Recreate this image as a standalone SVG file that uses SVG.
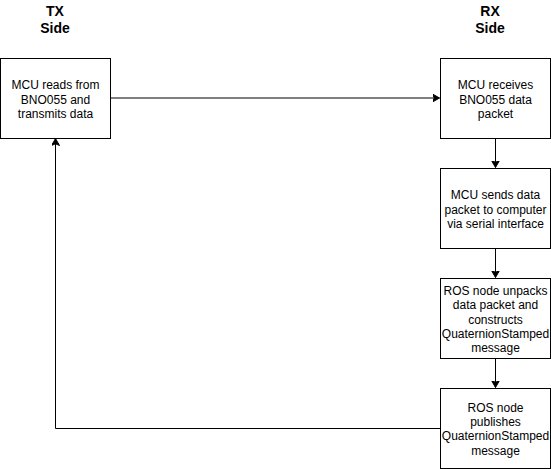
<svg xmlns="http://www.w3.org/2000/svg" width="551" height="469" viewBox="0 0 551 469">
<style>
.box{fill:#fff;stroke:#000;stroke-width:1}
.t{font-family:"Liberation Sans",Arial,sans-serif;font-size:12px;fill:#000;text-anchor:middle}
.h{font-family:"Liberation Sans",Arial,sans-serif;font-size:14px;font-weight:bold;fill:#000;text-anchor:middle}
.c{fill:none;stroke:#000;stroke-width:1}
</style>
<defs>
<marker id="arr" markerWidth="10" markerHeight="10" refX="7" refY="4" orient="auto" markerUnits="userSpaceOnUse">
<path d="M0,0 L7,4 L0,8 L1.75,4 Z" fill="#000" stroke="#000" stroke-width="1"/>
</marker>
</defs>
<rect width="551" height="469" fill="#fff"/>
<g id="labels">
<text class="h" x="55" y="15.5">TX</text>
<text class="h" x="55" y="32.5">Side</text>
<text class="h" x="490" y="15.5">RX</text>
<text class="h" x="490" y="32.5">Side</text>
</g>
<g id="connectors">
<path class="c" d="M110.5,98 L439.5,98" marker-end="url(#arr)"/>
<path class="c" d="M495.5,138.5 L495.5,167.5" marker-end="url(#arr)"/>
<path class="c" d="M495.5,248.5 L495.5,277.5" marker-end="url(#arr)"/>
<path class="c" d="M495.5,358.5 L495.5,387.5" marker-end="url(#arr)"/>
<path class="c" d="M440.5,428.5 L55.5,428.5 L55.5,138.5" marker-end="url(#arr)"/>
</g>
<g id="node1">
<rect class="box" x="0.5" y="58.5" width="110" height="80"/>
<text class="t" x="55.5" y="89.3">MCU reads from</text>
<text class="t" x="55.5" y="103.5">BNO055 and</text>
<text class="t" x="55.5" y="117.7">transmits data</text>
</g>
<g id="node2">
<rect class="box" x="440.5" y="58.5" width="110" height="80"/>
<text class="t" x="495.5" y="89.3">MCU receives</text>
<text class="t" x="495.5" y="103.5">BNO055 data</text>
<text class="t" x="495.5" y="117.7">packet</text>
</g>
<g id="node3">
<rect class="box" x="440.5" y="168.5" width="110" height="80"/>
<text class="t" x="495.5" y="199.3">MCU sends data</text>
<text class="t" x="495.5" y="213.5">packet to computer</text>
<text class="t" x="495.5" y="227.7">via serial interface</text>
</g>
<g id="node4">
<rect class="box" x="440.5" y="278.5" width="110" height="80"/>
<text class="t" x="495.5" y="295">ROS node unpacks</text>
<text class="t" x="495.5" y="309.3">data packet and</text>
<text class="t" x="495.5" y="323.6">constructs</text>
<text class="t" x="495.5" y="337.9">QuaternionStamped</text>
<text class="t" x="495.5" y="352.2">message</text>
</g>
<g id="node5">
<rect class="box" x="440.5" y="388.5" width="110" height="80"/>
<text class="t" x="495.5" y="411.8">ROS node</text>
<text class="t" x="495.5" y="426.1">publishes</text>
<text class="t" x="495.5" y="440.4">QuaternionStamped</text>
<text class="t" x="495.5" y="454.7">message</text>
</g>
</svg>
